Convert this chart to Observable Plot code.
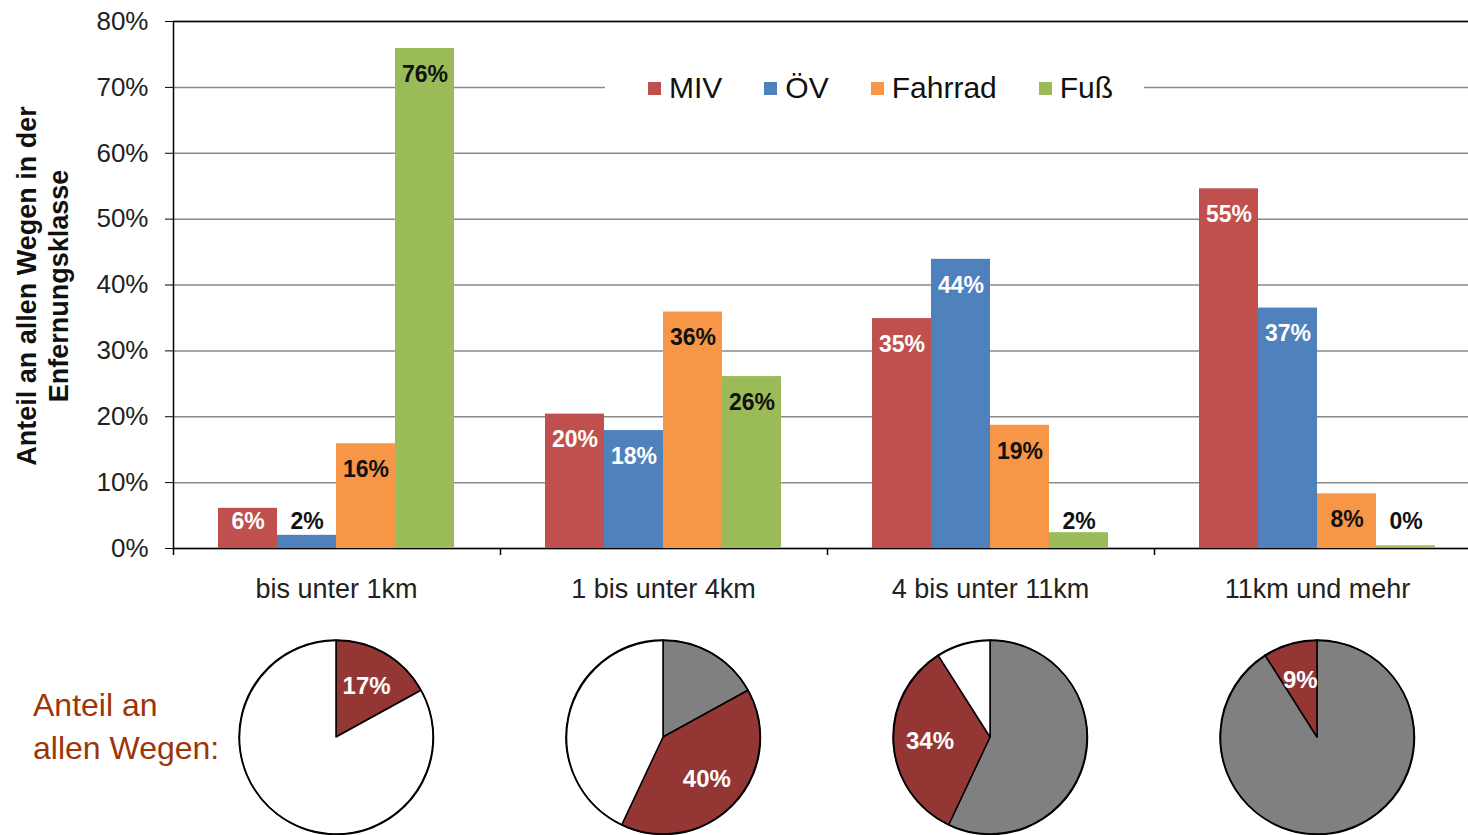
<!DOCTYPE html>
<html>
<head>
<meta charset="utf-8">
<script src="https://cdn.jsdelivr.net/npm/d3@7"></script>
<script src="https://cdn.jsdelivr.net/npm/@observablehq/plot@0.6"></script>
<style>
  body { margin: 0; width: 1468px; height: 835px; overflow: hidden; background: #fff; position: relative;
         font-family: "Liberation Sans", Arial, Helvetica, sans-serif; }
  .layer { position: absolute; left: 0; width: 1481px; }
  .layer svg { background: transparent !important; overflow: visible; max-width: none !important; }
  #ytitle { position: absolute; width: 440px; height: 70px; left: -174px; top: 251px; transform: rotate(-90deg);
            text-align: center; font-weight: bold; font-size: 27px; line-height: 32px; color: #111; }
  #legend { position: absolute; left: 605px; top: 70px; height: 36px; background: #fff; display: flex; align-items: center;
            padding: 0 31px 0 43px; font-size: 30px; color: #111; }
  #legend .item { display: flex; align-items: center; margin-right: 42px; }
  #legend .item:last-child { margin-right: 0; }
  #legend .sw { width: 13px; height: 13px; margin-right: 8px; display: inline-block; }
  #pienote { position: absolute; left: 33px; top: 684px; font-size: 32px; line-height: 43px; color: #9C3508; }
</style>
</head>
<body>
<div id="bg" class="layer" style="top:0"></div>
<div id="bars" class="layer" style="top:0"></div>
<div id="pies" class="layer" style="top:627px"></div>
<div id="ytitle">Anteil an allen Wegen in der<br>Enfernungsklasse</div>
<div id="legend"></div>
<div id="pienote">Anteil an<br>allen Wegen:</div>
<script>
// ---- data ----
const categories = ["bis unter 1km", "1 bis unter 4km", "4 bis unter 11km", "11km und mehr"];
const series = ["MIV", "ÖV", "Fahrrad", "Fuß"];
const seriesColors = ["#C0504D", "#4F81BD", "#F79646", "#9BBB59"];
const mivValues = [6.1, 20.4, 34.9, 54.6];
const oevValues = [2.0, 17.9, 43.9, 36.5];
const fahrradValues = [15.9, 35.9, 18.7, 8.3];
const fussValues = [75.9, 26.1, 2.4, 0.4];
const yTicks = [0, 10, 20, 30, 40, 50, 60, 70, 80];
const classBoundaries = [0, 1, 2, 3, 4];
const pieShares = [17, 40, 34, 9];
const pieColors = {before: "#808080", current: "#943634", rest: "#FFFFFF"};

const valuesBySeries = [mivValues, oevValues, fahrradValues, fussValues];
const rows = categories.flatMap((c, i) => series.map((s, j) => ({category: c, series: s, value: valuesBySeries[j][i]})));

const W = 1481, H = 600, ML = 173, MT = 21, MB = 52;
const font = "Liberation Sans, Arial, Helvetica, sans-serif";

// ---- background: grid, y axis, frame, class boundary ticks ----
const bg = Plot.plot({
  width: W, height: H, marginLeft: ML, marginRight: 0, marginTop: MT, marginBottom: MB,
  style: {fontFamily: font, background: "transparent", color: "#000"},
  x: {domain: [0, 4]},
  y: {domain: [0, 80]},
  marks: [
    Plot.gridY({ticks: yTicks, stroke: "#8a8a8a", strokeOpacity: 1, strokeWidth: 1.5}),
    Plot.axisY({ticks: yTicks, tickFormat: d => d + "%", tickSize: 8, tickPadding: 17, fontSize: 26, label: null, fill: "#222"}),
    Plot.axisX({ticks: classBoundaries, tickFormat: () => "", tickSize: 7, label: null, strokeWidth: 1.5}),
    Plot.frame({stroke: "#000", strokeWidth: 1.5})
  ]
});
document.getElementById("bg").appendChild(bg);

// ---- bars ----
const whiteLabel = d => (d.series === "MIV" || d.series === "ÖV") && d.value >= 5;
const labelOpts = {
  fx: "category", x: "series", y: d => Math.max(d.value, 8), dy: 26,
  text: d => Math.round(d.value) + "%", fontSize: 23, fontWeight: "bold"
};
const bars = Plot.plot({
  width: W, height: H, marginLeft: ML, marginRight: 0, marginTop: MT, marginBottom: MB,
  style: {fontFamily: font, background: "transparent", color: "#000"},
  fx: {domain: categories, paddingInner: 0.278, paddingOuter: 0.139, label: null},
  x: {domain: series, padding: 0, axis: null},
  y: {domain: [0, 80], axis: null},
  color: {domain: series, range: seriesColors},
  marks: [
    Plot.barY(rows, {fx: "category", x: "series", y: "value", fill: "series"}),
    Plot.text(rows, {...labelOpts, filter: whiteLabel, fill: "white"}),
    Plot.text(rows, {...labelOpts, filter: d => !whiteLabel(d), fill: "#111"}),
    Plot.axisFx({anchor: "bottom", tickSize: 0, tickPadding: 30, fontSize: 27, label: null, fill: "#222"})
  ]
});
document.getElementById("bars").appendChild(bars);

// ---- legend ----
const colorScale = bars.scale("color");
const legend = document.getElementById("legend");
colorScale.domain.forEach((s, i) => {
  const item = document.createElement("div");
  item.className = "item";
  const sw = document.createElement("span");
  sw.className = "sw";
  sw.style.background = colorScale.range[i];
  item.appendChild(sw);
  item.appendChild(document.createTextNode(s));
  legend.appendChild(item);
});

// ---- pies ----
const pieRadius = 97;
function pieSlices(index, scales, values, dimensions) {
  const g = d3.create("svg:g");
  const x = scales.x;
  const bw = x.bandwidth ? x.bandwidth() : 0;
  const cy = dimensions.marginTop + (dimensions.height - dimensions.marginTop - dimensions.marginBottom) / 2;
  const arc = d3.arc().innerRadius(0).outerRadius(pieRadius);
  const labelArc = d3.arc().innerRadius(pieRadius * 0.62).outerRadius(pieRadius * 0.62);
  categories.forEach((c, i) => {
    const before = d3.sum(pieShares.slice(0, i));
    const parts = [
      {v: before, fill: pieColors.before},
      {v: pieShares[i], fill: pieColors.current, label: pieShares[i] + "%"},
      {v: 100 - before - pieShares[i], fill: pieColors.rest}
    ];
    const arcs = d3.pie().sort(null).value(d => d.v)(parts);
    const gi = g.append("g").attr("transform", `translate(${x(c) + bw / 2},${cy})`);
    arcs.filter(a => a.data.v > 0).forEach(a => {
      gi.append("path").attr("d", arc(a)).attr("fill", a.data.fill)
        .attr("stroke", "#000").attr("stroke-width", 1.5).attr("stroke-linejoin", "round");
    });
    arcs.filter(a => a.data.label).forEach(a => {
      const [lx, ly] = labelArc.centroid(a);
      gi.append("text").attr("x", lx).attr("y", ly).attr("text-anchor", "middle").attr("dy", "0.36em")
        .attr("fill", "white").attr("font-weight", "bold").attr("font-size", 24).text(a.data.label);
    });
  });
  return g.node();
}
const pies = Plot.plot({
  width: W, height: 220, marginLeft: ML, marginRight: 0, marginTop: 0, marginBottom: 0,
  style: {fontFamily: font, background: "transparent"},
  x: {type: "band", domain: categories, paddingInner: 0.278, paddingOuter: 0.139, axis: null},
  marks: [
    pieSlices,
    Plot.dot(categories, {x: d => d, r: pieRadius, fill: "none", stroke: "#000", strokeWidth: 1.5})
  ]
});
document.getElementById("pies").appendChild(pies);
</script>
</body>
</html>
